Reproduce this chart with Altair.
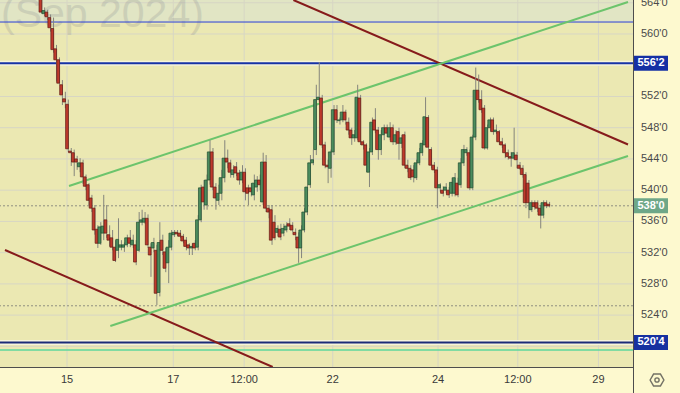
import altair as alt
import pandas as pd

# ---------------- data ----------------
bar_index = list(range(-9, 164))  # hourly bars; 18 bars per trading day, day "15" starts at 0

open_ = [565.7, 562.6, 562.8, 562.1, 560.7, 558.1, 556.7, 553.5, 551.7,
         551.0, 545.0, 544.8, 544.0, 543.0, 543.5, 541.7, 540.7, 539.0, 537.7,
         535.0, 533.2, 534.5, 536.2, 534.3, 533.9, 532.7, 532.3, 532.7, 532.7,
         533.0, 533.9, 533.0, 533.0, 532.3, 535.9, 535.9, 536.4, 532.7, 532.6,
         532.3, 526.9, 533.6, 532.1, 530.7, 532.7, 534.3, 534.6, 534.5, 534.1,
         533.6, 533.0, 532.6, 533.2, 532.7, 536.2, 540.4, 538.1, 541.3, 544.9,
         540.4, 538.7, 539.6, 541.6, 544.1, 543.5, 542.0, 543.0, 542.2, 541.3,
         542.3, 540.3, 540.3, 539.4, 540.4, 541.3, 538.5, 543.6, 537.7, 537.5,
         535.9, 534.6, 535.0, 534.5, 534.9, 535.7, 535.5, 534.6, 534.0, 532.6,
         534.9, 537.2, 540.7, 543.5, 545.2, 551.6, 551.8, 545.8, 543.2, 542.8,
         544.9, 550.3, 548.9, 549.0, 550.0, 548.7, 547.7, 546.7, 546.7, 551.8,
         546.2, 545.8, 542.3, 544.9, 549.0, 547.7, 545.2, 547.1, 548.0, 546.8,
         548.0, 546.2, 547.5, 546.0, 547.1, 543.2, 542.8, 542.6, 541.6, 543.5,
         544.8, 545.8, 549.3, 545.2, 543.2, 542.6, 540.3, 540.0, 540.0, 540.0,
         539.6, 539.6, 540.9, 540.7, 543.5, 544.8, 544.8, 540.3, 546.8, 552.8,
         551.6, 550.5, 545.4, 548.0, 549.0, 547.5, 547.5, 546.2, 545.8, 544.8,
         544.3, 544.1, 544.5, 543.2, 542.8, 542.0, 540.9, 537.5, 538.4, 538.4,
         537.7, 536.8, 538.4, 538.2]

high = [566.7, 563.4, 563.1, 562.5, 562.1, 558.6, 557.0, 554.1, 552.6,
        551.6, 545.4, 545.2, 544.4, 544.1, 543.9, 542.0, 540.9, 539.4, 538.1,
        535.5, 535.9, 539.4, 538.1, 535.5, 534.9, 533.6, 536.4, 533.6, 533.3,
        534.3, 534.9, 534.3, 533.6, 537.2, 537.5, 537.2, 536.9, 533.2, 533.9,
        533.0, 535.9, 534.3, 532.6, 533.6, 534.9, 534.9, 534.9, 534.9, 534.4,
        534.0, 533.2, 533.2, 533.6, 536.8, 540.7, 541.3, 542.0, 546.4, 545.4,
        540.9, 540.7, 542.6, 546.4, 545.2, 543.9, 543.2, 543.6, 542.6, 543.2,
        542.8, 540.7, 540.9, 542.0, 541.8, 542.0, 544.8, 544.5, 538.1, 538.1,
        536.8, 535.5, 535.7, 535.7, 535.9, 536.4, 535.9, 535.1, 534.6, 535.5,
        537.7, 540.7, 544.5, 545.2, 553.5, 556.4, 552.2, 546.2, 543.9, 545.2,
        550.9, 550.9, 549.3, 550.9, 550.3, 549.3, 548.0, 547.7, 553.5, 552.2,
        546.4, 546.0, 545.4, 549.3, 550.5, 548.1, 547.7, 548.4, 548.4, 548.7,
        548.4, 547.7, 548.0, 547.1, 547.5, 543.9, 543.2, 543.2, 543.9, 545.4,
        546.4, 551.9, 549.6, 545.5, 543.6, 543.0, 540.9, 540.5, 540.9, 540.4,
        541.6, 542.2, 541.6, 544.1, 545.8, 545.5, 545.2, 547.1, 555.7, 554.8,
        552.8, 550.9, 548.4, 549.3, 549.3, 548.4, 547.7, 546.7, 546.0, 545.2,
        544.9, 548.0, 544.9, 543.6, 543.2, 542.3, 541.3, 538.7, 538.7, 538.7,
        538.1, 538.7, 538.7, 538.5]

low = [562.6, 562.3, 561.8, 560.3, 557.6, 553.9, 553.5, 550.9, 550.5,
       544.9, 543.1, 541.8, 542.6, 542.3, 540.8, 540.0, 538.1, 537.2, 534.3,
       532.6, 533.0, 533.6, 533.9, 532.8, 532.3, 530.8, 531.3, 532.3, 532.1,
       532.7, 532.7, 532.6, 530.4, 532.1, 535.5, 535.7, 532.6, 528.9, 532.1,
       525.3, 526.4, 531.7, 529.5, 528.1, 532.3, 534.0, 534.1, 533.9, 533.2,
       532.3, 531.7, 531.7, 532.3, 532.3, 535.9, 537.5, 537.5, 540.7, 540.0,
       537.5, 538.1, 538.7, 541.0, 542.8, 541.6, 541.6, 541.8, 540.7, 540.9,
       538.7, 538.1, 539.2, 538.7, 539.8, 540.0, 538.1, 537.2, 536.4, 533.0,
       533.6, 534.1, 533.6, 534.1, 534.6, 534.9, 534.6, 533.6, 530.7, 531.3,
       534.6, 536.8, 540.3, 543.2, 544.5, 551.3, 545.4, 542.8, 540.9, 541.6,
       544.5, 548.6, 548.4, 548.7, 548.4, 547.1, 545.8, 546.2, 546.4, 545.8,
       545.2, 542.3, 540.4, 544.5, 547.3, 543.9, 544.5, 546.4, 546.8, 546.4,
       545.8, 545.8, 543.9, 545.4, 542.8, 542.3, 541.3, 541.0, 541.3, 543.2,
       544.4, 545.5, 545.2, 542.8, 542.2, 537.7, 539.8, 539.2, 539.6, 539.0,
       539.2, 539.2, 539.1, 540.3, 543.1, 544.4, 540.0, 540.0, 546.4, 551.2,
       549.9, 545.2, 545.2, 547.5, 547.1, 547.2, 545.8, 545.4, 544.1, 543.9,
       543.0, 543.9, 542.8, 542.6, 541.6, 537.7, 536.4, 537.2, 537.5, 537.2,
       535.1, 536.4, 537.7, 537.8]

close = [562.8, 563.0, 562.2, 560.8, 558.0, 556.7, 553.7, 552.2, 551.3,
         545.3, 544.8, 543.6, 543.6, 543.5, 541.7, 540.5, 538.7, 537.7, 534.9,
         533.2, 535.3, 535.4, 534.5, 533.6, 532.7, 531.0, 533.7, 533.0, 533.0,
         533.9, 533.2, 533.6, 530.8, 535.9, 536.2, 536.4, 533.0, 531.7, 533.3,
         526.8, 533.3, 532.3, 530.0, 532.7, 534.5, 534.6, 534.4, 534.1, 533.5,
         532.8, 532.6, 532.8, 532.6, 536.2, 540.3, 538.5, 541.3, 544.9, 540.4,
         539.0, 539.6, 541.6, 544.1, 543.6, 542.3, 542.6, 542.2, 541.3, 542.3,
         539.8, 539.6, 539.8, 540.9, 541.3, 540.7, 543.6, 537.7, 537.2, 533.6,
         533.9, 535.1, 534.0, 535.1, 535.4, 535.4, 534.9, 534.3, 532.6, 534.9,
         537.2, 540.4, 543.5, 543.9, 551.6, 551.9, 545.8, 543.2, 543.0, 544.9,
         550.3, 549.0, 549.0, 550.0, 549.0, 547.7, 546.7, 547.1, 551.9, 546.2,
         545.8, 543.2, 544.9, 548.7, 547.7, 545.2, 547.1, 548.0, 547.3, 548.0,
         546.2, 547.1, 546.0, 546.7, 543.2, 542.8, 541.6, 541.7, 543.5, 544.8,
         546.0, 549.4, 545.5, 543.2, 542.6, 540.3, 540.7, 539.6, 540.4, 539.4,
         541.0, 541.6, 539.4, 543.5, 545.2, 545.2, 540.3, 546.8, 552.8, 551.6,
         550.3, 545.4, 548.0, 549.0, 547.5, 547.7, 546.2, 545.8, 544.8, 544.3,
         544.1, 544.8, 543.9, 542.8, 542.0, 538.4, 538.4, 538.4, 537.9, 537.7,
         536.8, 538.4, 538.0, 538.0]

# time axis (bar index positions) and labels
x_tick_pos = [0, 36, 60, 90, 125.67, 152.67, 180]
x_tick_labels = ["15", "17", "12:00", "22", "24", "12:00", "29"]

# price grid / labels
grid_prices = [520, 524, 528, 532, 536, 540, 544, 548, 552, 556, 560, 564]
y_label_prices = [564, 560, 552, 548, 544, 540, 536, 532, 528, 524]
y_label_texts = ["564'0", "560'0", "552'0", "548'0", "544'0", "540'0",
                 "536'0", "532'0", "528'0", "524'0"]

# trend lines (start/end in bar index and price)
red_x0 = [76.67, -21.0]
red_p0 = [564.35, 532.34]
red_x1 = [190.0, 69.67]
red_p1 = [545.85, 517.36]
green_x0 = [0.67, 14.67]
green_p0 = [540.53, 522.61]
green_x1 = [190.0, 190.0]
green_p1 = [564.09, 544.38]

# horizontal levels
level_thin_blue = 561.53
level_resist = 556.25
level_support = 520.5
level_green = 519.54
dotted_levels = [538.0, 525.2]

badge_prices = [556.25, 538.0, 520.5]
badge_texts = ["556'2", "538'0", "520'4"]

# ---------------- chart ----------------
XD = [-21, 190]
YD = [517.36, 564.35]
xs = alt.Scale(domain=XD, nice=False, zero=False)
ys = alt.Scale(domain=YD, nice=False, zero=False)
FONT = "Liberation Sans"

candles = pd.DataFrame({"i": bar_index, "open": open_, "high": high,
                        "low": low, "close": close})

band = alt.Chart(pd.DataFrame({"a": [level_thin_blue], "b": [YD[1]]})).mark_rect(
    color="#e1e5c4").encode(
    x=alt.value(0), x2=alt.value(633),
    y=alt.Y("a:Q", scale=ys, axis=None), y2="b:Q")

hgrid = alt.Chart(pd.DataFrame({"p": grid_prices})).mark_rule(
    color="#d7d6c4", strokeWidth=1).encode(y=alt.Y("p:Q", scale=ys, axis=None))

vgrid = alt.Chart(pd.DataFrame({"x": x_tick_pos})).mark_rule(
    color="#d7d6c4", strokeWidth=1).encode(x=alt.X("x:Q", scale=xs, axis=None))

watermark = alt.Chart(pd.DataFrame({"t": ["(Sep 2024)"]})).mark_text(
    align="left", baseline="alphabetic", fontSize=41, font=FONT,
    color="#787b86", opacity=0.2).encode(
    x=alt.value(1), y=alt.value(27), text="t:N")

dotted = alt.Chart(pd.DataFrame({"p": dotted_levels})).mark_rule(
    color="#8f8f80", strokeWidth=1, strokeDash=[2, 2]).encode(
    y=alt.Y("p:Q", scale=ys, axis=None))

def hline(price, color, width):
    return alt.Chart(pd.DataFrame({"p": [price]})).mark_rule(
        color=color, strokeWidth=width).encode(y=alt.Y("p:Q", scale=ys, axis=None))

levels = [
    hline(level_thin_blue, "#2a3fd8", 1),
    hline(level_resist, "#f6f4dc", 5),
    hline(level_resist, "#1632a6", 2),
    hline(level_support, "#f6f4dc", 5),
    hline(level_support, "#1b2c78", 2),
    hline(level_green, "#5ed79c", 1.5),
]

red_lines = alt.Chart(pd.DataFrame({"x0": red_x0, "p0": red_p0,
                                    "x1": red_x1, "p1": red_p1})).mark_rule(
    color="#861b1b", strokeWidth=2, clip=True).encode(
    x=alt.X("x0:Q", scale=xs, axis=None), x2="x1:Q",
    y=alt.Y("p0:Q", scale=ys, axis=None), y2="p1:Q")

green_lines = alt.Chart(pd.DataFrame({"x0": green_x0, "p0": green_p0,
                                      "x1": green_x1, "p1": green_p1})).mark_rule(
    color="#6cc46c", strokeWidth=2, clip=True).encode(
    x=alt.X("x0:Q", scale=xs, axis=None), x2="x1:Q",
    y=alt.Y("p0:Q", scale=ys, axis=None), y2="p1:Q")

up = "datum.close >= datum.open"
wicks = alt.Chart(candles).mark_rule(
    color="#85857c", strokeWidth=1, xOffset=1.3, clip=True).encode(
    x=alt.X("i:Q", scale=xs, axis=None),
    y=alt.Y("low:Q", scale=ys, axis=None), y2="high:Q")

bodies = alt.Chart(candles).mark_bar(size=2.8, strokeWidth=0.7, clip=True).encode(
    x=alt.X("i:Q", scale=xs, axis=None),
    y=alt.Y("open:Q", scale=ys, axis=None), y2="close:Q",
    color=alt.condition(up, alt.value("#4b8c5e"), alt.value("#bf3a2c")),
    stroke=alt.condition(up, alt.value("#1f4d2f"), alt.value("#5e1a12")))

# axis frame
frame_v = alt.Chart(pd.DataFrame({"k": [0]})).mark_rule(
    color="#4d4d4d", strokeWidth=1).encode(
    x=alt.value(633.5), y=alt.value(0), y2=alt.value(393))
frame_h = alt.Chart(pd.DataFrame({"k": [0]})).mark_rule(
    color="#4d4d4d", strokeWidth=1).encode(
    x=alt.value(0), x2=alt.value(633.5), y=alt.value(367.5))

x_labels = alt.Chart(pd.DataFrame({"x": x_tick_pos, "t": x_tick_labels})).mark_text(
    fontSize=11, font=FONT, color="#3a3a3a", baseline="middle").encode(
    x=alt.X("x:Q", scale=xs, axis=None), y=alt.value(380), text="t:N")

y_labels = alt.Chart(pd.DataFrame({"p": y_label_prices, "t": y_label_texts})).mark_text(
    fontSize=11, font=FONT, color="#4a4a4a", align="left", baseline="middle").encode(
    x=alt.value(641), y=alt.Y("p:Q", scale=ys, axis=None), text="t:N")

badges_df = pd.DataFrame({"p": badge_prices, "t": badge_texts})
badge_rects = alt.Chart(badges_df).mark_rect(yOffset=-7.5, y2Offset=7.5).encode(
    x=alt.value(634), x2=alt.value(668),
    y=alt.Y("p:Q", scale=ys, axis=None), y2="p:Q",
    color=alt.Color("t:N", legend=None,
                    scale=alt.Scale(domain=badge_texts,
                                    range=["#1530a4", "#6ea788", "#1631a0"])))
badge_text = alt.Chart(badges_df).mark_text(
    fontSize=11, font=FONT, fontWeight="bold", color="white",
    align="center", baseline="middle").encode(
    x=alt.value(651), y=alt.Y("p:Q", scale=ys, axis=None), text="t:N")

hexagon = alt.Chart(pd.DataFrame({"k": [0]})).mark_point(
    shape="M-1,0 L-0.5,-0.866 L0.5,-0.866 L1,0 L0.5,0.866 L-0.5,0.866 Z",
    size=190, filled=False, color="#3a3a3a", strokeWidth=1.4).encode(
    x=alt.value(657), y=alt.value(380))
hex_dot = alt.Chart(pd.DataFrame({"k": [0]})).mark_point(
    shape="circle", size=18, filled=False, color="#3a3a3a", strokeWidth=1.4).encode(
    x=alt.value(657), y=alt.value(380))

chart = alt.layer(
    band, hgrid, vgrid, watermark, dotted, *levels, red_lines, green_lines,
    wicks, bodies, frame_v, frame_h, x_labels, y_labels,
    badge_rects, badge_text, hexagon, hex_dot
).properties(
    width=633, height=367,
    padding={"left": 0, "top": 0, "right": 47, "bottom": 26},
    autosize=alt.AutoSizeParams(type="none"),
    background="#fdf9cf",
).configure_view(
    fill="#ebe8b2", strokeWidth=0
)

chart.save("out.html", embed_options={"renderer": "svg", "actions": False})
